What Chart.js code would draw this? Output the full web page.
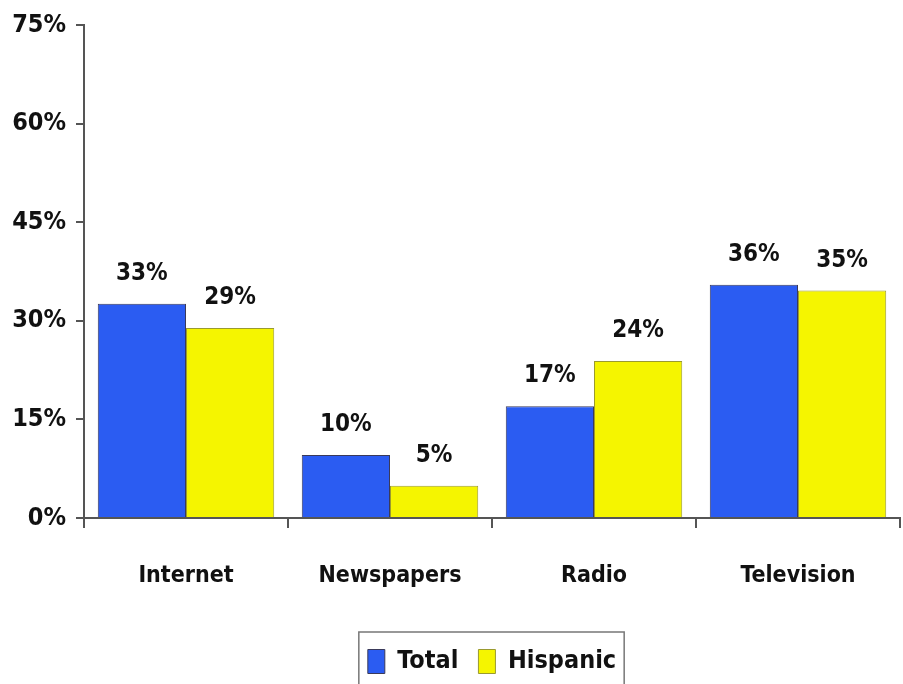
<!DOCTYPE html>
<html>
<head>
<meta charset="utf-8">
<script src="https://cdn.jsdelivr.net/npm/chart.js@4"></script>
<style>
  html, body { margin: 0; padding: 0; background: #fff; }
  #wrap { width: 903px; height: 684px; }
</style>
</head>
<body>
<div id="wrap"><canvas id="mediaChart"></canvas></div>
<script>
// values
const categories = ["Internet", "Newspapers", "Radio", "Television"];
const totalValues = [32.6, 9.6, 17, 35.5];
const hispanicValues = [28.9, 4.9, 23.9, 34.6];
const yTicks = [0, 15, 30, 45, 60, 75];

const FONT = "'DejaVu Sans Condensed', 'Liberation Sans', sans-serif";

// draws the % above each bar
const barLabels = {
  id: "barLabels",
  afterDatasetsDraw(chart) {
    const ctx = chart.ctx;
    ctx.save();
    ctx.font = "bold 24px " + FONT;
    ctx.fillStyle = "#111";
    ctx.textAlign = "center";
    ctx.textBaseline = "bottom";
    chart.data.datasets.forEach((ds, i) => {
      chart.getDatasetMeta(i).data.forEach((bar, j) => {
        ctx.fillText(Math.round(ds.data[j]) + "%", bar.x, bar.y - 18);
      });
    });
    ctx.restore();
  },
};

// box round the legend
const legendBox = {
  id: "legendBox",
  afterDraw(chart) {
    const lg = chart.legend;
    if (!lg || !lg.legendHitBoxes.length) return;
    const hb = lg.legendHitBoxes;
    const first = hb[0];
    const last = hb[hb.length - 1];
    const ctx = chart.ctx;
    ctx.save();
    ctx.strokeStyle = "#777";
    ctx.lineWidth = 1.5;
    const x0 = first.left - 9;
    const x1 = last.left + last.width + 8;
    ctx.strokeRect(x0, first.top - 17, x1 - x0, 60);
    ctx.restore();
  },
};

const ctx = document.getElementById("mediaChart");
const myChart = new Chart(ctx, {
  type: "bar",
  data: {
    labels: categories,
    datasets: [
      {
        label: "Total",
        data: totalValues,
        backgroundColor: "#2b5cf2",
        borderColor: "#3a3a5a",
        borderWidth: 1,
      },
      {
        label: "Hispanic",
        data: hispanicValues,
        backgroundColor: "#f5f500",
        borderColor: "#9a9a30",
        borderWidth: 1,
      },
    ],
  },
  options: {
    responsive: true,
    maintainAspectRatio: false,
    animation: false,
    layout: { padding: { top: 25, right: 3, left: 0, bottom: 0 } },
    datasets: {
      bar: { categoryPercentage: 0.865, barPercentage: 1 },
    },
    plugins: {
      tooltip: { enabled: false },
      legend: {
        position: "bottom",
        fullSize: false,
        labels: {
          color: "#111",
          font: { family: FONT, size: 25, weight: "bold" },
          boxWidth: 17,
          boxHeight: 24,
          padding: 20,
        },
      },
    },
    scales: {
      y: {
        min: 0,
        max: 75,
        afterBuildTicks: (s) => {
          s.ticks = yTicks.map((v) => ({ value: v }));
        },
        afterFit: (s) => {
          s.width = 84;
        },
        border: { color: "#555", width: 2 },
        grid: {
          drawOnChartArea: false,
          drawTicks: true,
          tickLength: 8,
          color: "#555",
          lineWidth: 2,
        },
        ticks: {
          color: "#111",
          padding: 10,
          font: { family: FONT, size: 25, weight: "bold" },
          callback: (v) => v + "%",
        },
      },
      x: {
        afterFit: (s) => {
          s.height = 111;
        },
        border: { color: "#555", width: 2 },
        grid: {
          offset: true,
          drawOnChartArea: false,
          drawTicks: true,
          tickLength: 10,
          color: "#555",
          lineWidth: 2,
        },
        ticks: {
          color: "#111",
          padding: 34,
          font: { family: FONT, size: 23, weight: "bold" },
        },
      },
    },
  },
  plugins: [barLabels, legendBox],
});
</script>
</body>
</html>
